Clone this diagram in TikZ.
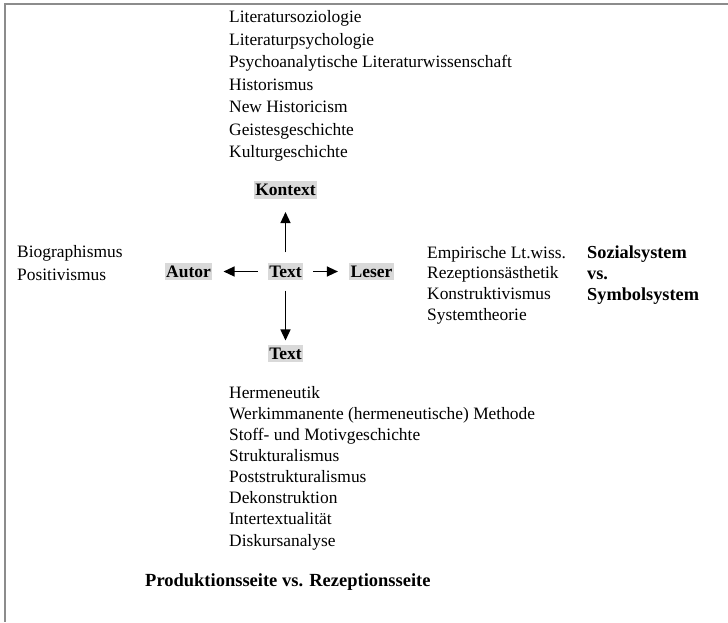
\documentclass[tikz,border=0pt]{standalone}
\usepackage{fontspec}
\setmainfont{Liberation Serif}
\usetikzlibrary{arrows.meta,positioning}

\tikzset{
  liste/.style = {anchor=west, align=left, inner sep=0pt, font=\fontsize{17.4}{22.5}\selectfont},
  pol/.style = {fill=black!15, inner xsep=1.5pt, inner ysep=3pt, font=\fontsize{17.5}{20}\selectfont\bfseries},
  pfeil/.style = {-{Triangle[length=11pt,width=10pt]}, line width=1.3pt, shorten <=10pt, shorten >=11pt}
}

\begin{document}
\begin{tikzpicture}[x=1pt,y=-1pt]
\useasboundingbox (0,0) rectangle (728,622);
% Rahmen
\draw[black!45, line width=2pt] (728,4) -- (5,4) -- (5,622);

% die fuenf Pole
\node[pol] (txt) at (285.5,271.5) {Text};
\node[pol] (ctx) at (285.5,190) {Kontext};
\node[pol] (aut) at (188.5,271.5) {Autor};
\node[pol] (les) at (371.5,271.5) {Leser};
\node[pol] (txt2) at (285.5,353.5) {Text};

\draw[pfeil, shorten >=13pt] (txt) -- (ctx);
\draw[pfeil] (txt) -- (aut);
\draw[pfeil] (txt) -- (les);
\draw[pfeil, shorten >=4pt] (txt) -- (txt2);

% Methoden
\node[liste] (m_ctx) at (229,86) {Literatursoziologie\\Literaturpsychologie\\Psychoanalytische Literaturwissenschaft\\Historismus\\New Historicism\\Geistesgeschichte\\Kulturgeschichte};
\node[liste] (m_aut) at (17,263) {Biographismus\\Positivismus};
\node[liste, font=\fontsize{17.4}{20.7}\selectfont] (m_les) at (427,285) {Empirische Lt.wiss.\\Rezeptionsästhetik\\Konstruktivismus\\Systemtheorie};
\node[liste, font=\fontsize{18.3}{21}\selectfont\bfseries] (sys) at (587,275) {Sozialsystem\\vs.\\Symbolsystem};
\node[liste, font=\fontsize{17.4}{21.1}\selectfont] (m_txt) at (229,468) {Hermeneutik\\Werkimmanente (hermeneutische) Methode\\Stoff- und Motivgeschichte\\Strukturalismus\\Poststrukturalismus\\Dekonstruktion\\Intertextualität\\Diskursanalyse};

\node[liste, font=\fontsize{18.5}{20}\selectfont\bfseries] (seite) at (145,582) {Produktionsseite vs. Rezeptionsseite};
\end{tikzpicture}
\end{document}
